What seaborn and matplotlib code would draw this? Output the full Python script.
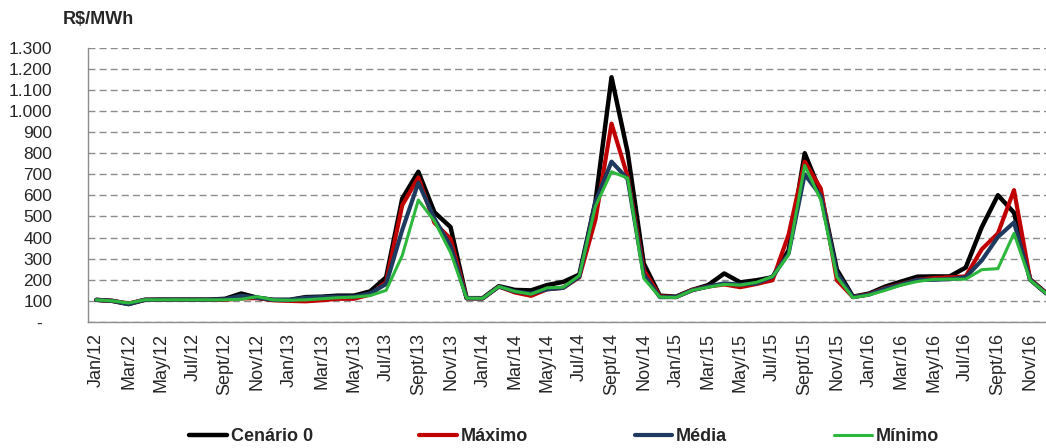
import numpy as np
import pandas as pd
import matplotlib
matplotlib.use("Agg")
import matplotlib.pyplot as plt
import seaborn as sns

# meses jan/12 .. dez/16
meses_abrev = ["Jan", "Feb", "Mar", "Apr", "May", "Jun",
               "Jul", "Aug", "Sept", "Oct", "Nov", "Dec"]
anos = ["12", "13", "14", "15", "16"]
meses = [m + "/" + a for a in anos for m in meses_abrev]

cenario0 = [105, 100, 85, 105, 106, 106, 106, 106, 110, 135, 115, 105,
            105, 118, 120, 125, 125, 145, 212, 585, 712, 520, 450, 113,
            113, 170, 152, 150, 175, 190, 225, 570, 1160, 805, 278, 125,
            120, 152, 175, 230, 188, 198, 212, 340, 800, 612, 248, 120,
            135, 168, 192, 215, 216, 216, 258, 450, 601, 518, 202, 137]
maximo = [105, 100, 88, 105, 105, 105, 105, 105, 105, 112, 113, 103,
          100, 98, 103, 110, 110, 130, 190, 553, 685, 470, 395, 113,
          112, 168, 140, 124, 155, 162, 212, 485, 940, 690, 248, 122,
          118, 152, 168, 178, 165, 180, 198, 415, 760, 632, 198, 118,
          132, 160, 180, 200, 208, 212, 216, 345, 420, 625, 202, 137]
media = [105, 100, 85, 105, 106, 106, 106, 106, 108, 125, 115, 105,
         105, 115, 118, 120, 120, 135, 180, 436, 660, 490, 360, 113,
         112, 168, 145, 135, 155, 162, 215, 570, 760, 678, 225, 118,
         118, 150, 168, 183, 177, 183, 215, 325, 700, 598, 232, 118,
         130, 158, 178, 200, 200, 203, 212, 292, 403, 472, 200, 135]
minimo = [105, 100, 90, 105, 105, 105, 105, 105, 105, 108, 120, 105,
          103, 105, 110, 115, 118, 125, 150, 315, 578, 478, 330, 113,
          112, 168, 145, 132, 162, 165, 220, 548, 712, 682, 207, 118,
          116, 150, 165, 178, 175, 188, 215, 318, 742, 578, 213, 115,
          128, 150, 175, 192, 202, 203, 203, 248, 253, 420, 198, 135]

series = ["Cenário 0", "Máximo", "Média", "Mínimo"]
cores = ["#000000", "#C00000", "#1F3A5F", "#2DB83D"]
espessuras = [3.2, 3.0, 3.0, 2.2]

df = pd.DataFrame({"idx": np.arange(len(meses)), "Cenário 0": cenario0,
                   "Máximo": maximo, "Média": media, "Mínimo": minimo})
longo = df.melt(id_vars="idx", var_name="serie", value_name="valor")

sns.set_style("white")
plt.rcParams["font.family"] = ["Liberation Sans", "DejaVu Sans"]

fig = plt.figure(figsize=(10.46, 4.48), dpi=100)
ax = fig.add_axes([0.0844, 0.28125, 0.9235, 0.6123])

for nome, cor, lw in zip(series, cores, espessuras):
    sns.lineplot(data=longo[longo["serie"] == nome], x="idx", y="valor",
                 color=cor, linewidth=lw, ax=ax, label=nome)

ax.set_xlim(-0.5, len(meses) - 0.5)
ax.set_ylim(0, 1300)
ax.set_xlabel("")
ax.set_ylabel("")

cinza = "#8C8C8C"
yt = list(range(0, 1301, 100))
ax.set_yticks(yt)
ax.set_yticklabels(["-  " if v == 0 else f"{v:,}".replace(",", ".") for v in yt],
                   fontsize=12.5)
ax.tick_params(axis="y", length=5, width=1, color=cinza, pad=21)

ax.set_xticks(np.arange(0, len(meses), 2))
ax.set_xticklabels(meses[::2], rotation=90, fontsize=13)
ax.tick_params(axis="x", which="major", length=0, pad=8)
ax.set_xticks(np.arange(-0.5, len(meses), 1), minor=True)
ax.tick_params(axis="x", which="minor", length=4, width=1, color=cinza)

ax.yaxis.grid(True, linestyle=(0, (5, 3)), color=cinza, linewidth=1.0)
ax.xaxis.grid(False)
ax.set_axisbelow(True)
for s in ["top", "right"]:
    ax.spines[s].set_visible(False)
for s in ["left", "bottom"]:
    ax.spines[s].set_color(cinza)
    ax.spines[s].set_linewidth(1.0)

handles, labels = ax.get_legend_handles_labels()
ax.get_legend().remove()
fig.legend(handles, labels, loc="center", bbox_to_anchor=(0.539, 0.0246),
           ncol=4, frameon=False, handlelength=2.1, handletextpad=0.2,
           columnspacing=5.9, prop={"weight": "bold", "size": 13})

fig.text(63 / 1046, 1 - 20 / 448, "R$/MWh", fontsize=13, fontweight="bold",
         ha="left", va="center")

plt.savefig("out.png", dpi=100)
plt.close()
